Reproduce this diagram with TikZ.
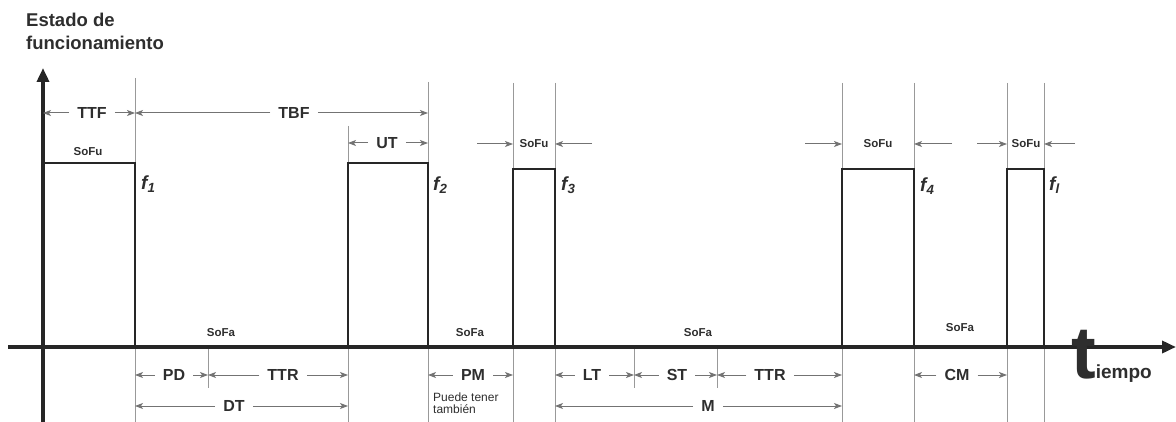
\documentclass[tikz,border=0pt]{standalone}
\usepackage{fontspec}
\setmainfont{Liberation Sans}
\usepackage{tikz}
\usetikzlibrary{arrows.meta,calc}

\begin{document}
\begin{tikzpicture}[
        x=1pt, y=-1pt,
        every node/.style={text=black!82, inner sep=1pt},
        axis/.style={line width=3.5pt, draw=black!85, -{Triangle[length=14pt,width=12pt]}},
        pulse/.style={line width=2.6pt, draw=black!85},
        guide/.style={line width=1pt, draw=black!40},
        dim/.style={line width=1pt, draw=black!55, -{Stealth[length=8pt,width=6pt,inset=2pt]}},
        lbl/.style={font=\fontsize{16}{18}\selectfont\bfseries, inner xsep=8pt},
        state/.style={font=\fontsize{11.5}{12}\selectfont\bfseries},
        fail/.style={font=\fontsize{19}{20}\selectfont\bfseries\itshape, anchor=west}
        ]
        \useasboundingbox (0,0) rectangle (1176,422);

        \node[anchor=north west, align=left, font=\fontsize{18.5}{23}\selectfont\bfseries] (estado) at (25,12) {Estado de\\funcionamiento};

        \foreach \x/\t in {135/78, 348/126, 428/82, 513/83, 555/83, 842/83, 914/83, 1007/83, 1044/83}
            \draw[guide] (\x,\t) -- (\x,422);
        \foreach \x in {208, 634, 717}
            \draw[guide] (\x,347) -- (\x,388);

        \draw[pulse] (43,163) -- (135,163) -- (135,347);
        \draw[pulse] (348,347) -- (348,163) -- (428,163) -- (428,347);
        \draw[pulse] (513,347) -- (513,169) -- (555,169) -- (555,347);
        \draw[pulse] (842,347) -- (842,169) -- (914,169) -- (914,347);
        \draw[pulse] (1007,347) -- (1007,169) -- (1044,169) -- (1044,347);

        \draw[axis] (43,422) -- (43,68);
        \draw[axis] (8,347) -- (1176,347);

        \coordinate (x0) at (43,347);
        \coordinate (x1) at (135,347);
        \coordinate (x2) at (348,347);
        \coordinate (x3) at (428,347);
        \coordinate (x4) at (513,347);
        \coordinate (x5) at (555,347);
        \coordinate (x6) at (842,347);
        \coordinate (x7) at (914,347);
        \coordinate (x8) at (1007,347);
        \coordinate (x9) at (1044,347);
        \coordinate (xa) at (208,347);
        \coordinate (xb) at (634,347);
        \coordinate (xc) at (717,347);

        \node[lbl] (ttf) at (92,113) {TTF};
        \node[lbl] (tbf) at (294,113) {TBF};
        \node[lbl] (ut) at (387,143) {UT};
        \draw[dim] (ttf) -- (ttf -| x0);
        \draw[dim] (ttf) -- (ttf -| x1);
        \draw[dim] (tbf) -- (tbf -| x1);
        \draw[dim] (tbf) -- (tbf -| x3);
        \draw[dim] (ut) -- (ut -| x2);
        \draw[dim] (ut) -- (ut -| x3);

        \node[state] (sofu1) at (88,152) {SoFu};
        \node[state] (sofu3) at (534,144) {SoFu};
        \node[state] (sofu4) at (878,144) {SoFu};
        \node[state] (sofu5) at (1026,144) {SoFu};
        \coordinate (s3a) at (477,144);
        \coordinate (s3b) at (592,144);
        \coordinate (s4a) at (805,144);
        \coordinate (s4b) at (952,144);
        \coordinate (s5a) at (977,144);
        \coordinate (s5b) at (1075,144);
        \draw[dim] (s3a) -- (sofu3 -| x4);
        \draw[dim] (s3b) -- (sofu3 -| x5);
        \draw[dim] (s4a) -- (sofu4 -| x6);
        \draw[dim] (s4b) -- (sofu4 -| x7);
        \draw[dim] (s5a) -- (sofu5 -| x8);
        \draw[dim] (s5b) -- (sofu5 -| x9);

        \node[fail] (f1) at (140,184) {f\textsubscript{1}};
        \node[fail] (f2) at (432,185) {f\textsubscript{2}};
        \node[fail] (f3) at (560,185) {f\textsubscript{3}};
        \node[fail] (f4) at (919,186) {f\textsubscript{4}};
        \node[fail] (fl) at (1048,185) {f\textsubscript{l}};

        \node[state] (sofa1) at (221,333) {SoFa};
        \node[state] (sofa2) at (470,333) {SoFa};
        \node[state] (sofa3) at (698,333) {SoFa};
        \node[state] (sofa4) at (960,328) {SoFa};

        \node[lbl] (pd) at (174,375) {PD};
        \node[lbl] (ttr1) at (283,375) {TTR};
        \node[lbl] (dt) at (234,406) {DT};
        \node[lbl] (pm) at (473,375) {PM};
        \node[lbl] (lt) at (592,375) {LT};
        \node[lbl] (st) at (677,375) {ST};
        \node[lbl] (ttr2) at (770,375) {TTR};
        \node[lbl] (m) at (708,406) {M};
        \node[lbl] (cm) at (957,375) {CM};
        \draw[dim] (pd) -- (pd -| x1);
        \draw[dim] (pd) -- (pd -| xa);
        \draw[dim] (ttr1) -- (ttr1 -| xa);
        \draw[dim] (ttr1) -- (ttr1 -| x2);
        \draw[dim] (dt) -- (dt -| x1);
        \draw[dim] (dt) -- (dt -| x2);
        \draw[dim] (pm) -- (pm -| x3);
        \draw[dim] (pm) -- (pm -| x4);
        \draw[dim] (lt) -- (lt -| x5);
        \draw[dim] (lt) -- (lt -| xb);
        \draw[dim] (st) -- (st -| xb);
        \draw[dim] (st) -- (st -| xc);
        \draw[dim] (ttr2) -- (ttr2 -| xc);
        \draw[dim] (ttr2) -- (ttr2 -| x6);
        \draw[dim] (m) -- (m -| x5);
        \draw[dim] (m) -- (m -| x6);
        \draw[dim] (cm) -- (cm -| x7);
        \draw[dim] (cm) -- (cm -| x8);

        \node[anchor=north west, align=left, font=\fontsize{12}{11.5}\selectfont] (nota) at (432,392) {Puede tener\\también};

        \node[anchor=base west, inner sep=0pt] (tiempo) at (1071,378) {{\fontsize{74}{74}\selectfont\bfseries t}{\fontsize{19}{22}\selectfont\bfseries iempo}};

    \end{tikzpicture}
\end{document}
